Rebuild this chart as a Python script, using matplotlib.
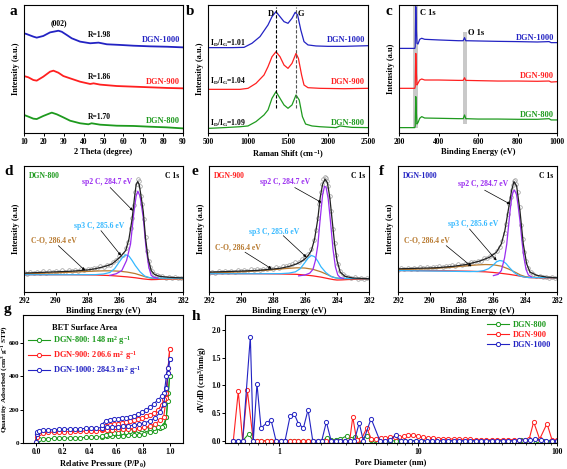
import matplotlib
matplotlib.use('Agg')
import matplotlib.pyplot as plt
import numpy as np

plt.rcParams.update({
    'font.family': 'Liberation Serif', 'font.weight': 'bold', 'axes.labelweight': 'bold',
    'font.size': 5.5, 'axes.linewidth': 0.8,
    'xtick.major.width': 0.7, 'ytick.major.width': 0.7, 'xtick.major.size': 2, 'ytick.major.size': 2,
    'xtick.minor.size': 1.2, 'xtick.minor.width': 0.5,
    'xtick.major.pad': 1.5, 'ytick.major.pad': 1.0, 'axes.labelpad': 1.5,
    'mathtext.fontset': 'custom', 'mathtext.rm': 'Liberation Serif:bold',
    'mathtext.it': 'Liberation Serif:bold:italic', 'mathtext.bf': 'Liberation Serif:bold',
})

BLUE = '#2323c3'; RED = '#ff2020'; GREEN = '#1e9a1e'
PURPLE = '#9a2cf0'; LBLUE = '#33b8ff'; BROWN = '#b87a30'; GRAY = '#9a9a9a'

# ---------------- (a) XRD ----------------
xrd_1000_t = [10, 11.3, 14.7, 16.4, 19.7, 23.1, 27.3, 29, 31.5, 34, 38.2, 43.3, 47.5, 51.7, 58.4, 65.1, 73.5, 81.9, 90]
xrd_1000_i = [77.9, 77.3, 75.3, 74.5, 75.8, 78.6, 79.9, 79.1, 76.6, 74, 71.4, 70.1, 70.6, 69.3, 68.8, 68.2, 67.7, 67.4, 66.9]
xrd_900_t = [10, 12.2, 14.7, 16.4, 19.7, 23.1, 24.8, 27.3, 29.8, 33.2, 38.2, 43.3, 45, 48.3, 56.7, 65.1, 73.5, 81.9, 90]
xrd_900_i = [44.5, 43.5, 41.4, 40.9, 44, 47.9, 48.7, 47.1, 44.5, 42.7, 40.1, 38.3, 38.8, 37.8, 36.7, 36.2, 35.7, 35.2, 34.9]
xrd_800_t = [10, 12.2, 14.7, 16.4, 19.7, 23.1, 24, 26.5, 29.8, 33.2, 38.2, 42.4, 44, 48.3, 56.7, 65.1, 73.5, 81.9, 90]
xrd_800_i = [14.1, 12.8, 11.2, 10.9, 13.3, 15.4, 15.9, 14.6, 12.2, 9.6, 7.6, 6.8, 7.6, 6.5, 5.7, 5.5, 4.9, 4.4, 3.6]
xrd_r_labels = ['R=1.98', 'R=1.86', 'R=1.70']

# ---------------- (b) Raman ----------------
ram_1000_w = [500, 800, 950, 1050, 1150, 1250, 1300, 1350, 1400, 1450, 1500, 1550, 1590, 1620, 1660, 1700, 1750, 1850, 2000, 2200, 2500]
ram_1000_i = [66.7, 66.7, 66.9, 70.1, 75.3, 84.4, 90.9, 94.8, 90.9, 87, 85.7, 89.6, 94.3, 92.2, 80.5, 71.4, 68.8, 68, 67.7, 67.7, 68.2]
ram_900_w = [500, 900, 1000, 1100, 1200, 1250, 1300, 1350, 1400, 1450, 1500, 1550, 1600, 1630, 1670, 1700, 1750, 1900, 2200, 2500]
ram_900_i = [34.1, 34.1, 34.9, 38.8, 45.3, 51.8, 59.6, 63.5, 59.6, 53.1, 50.5, 54.4, 62.2, 58.3, 45.3, 37.5, 35.4, 34.9, 34.6, 34.9]
ram_800_w = [500, 700, 900, 1000, 1100, 1200, 1250, 1300, 1350, 1400, 1450, 1500, 1550, 1600, 1640, 1680, 1720, 1800, 1900, 2100, 2150, 2300, 2500]
ram_800_i = [3.6, 4.2, 4.9, 5.5, 8.9, 14.1, 18, 27.1, 32.3, 27.1, 21.9, 19.3, 21.9, 29.7, 25.8, 12.8, 7, 5.5, 4.9, 4.2, 5.5, 4.4, 4.2]
ram_ratio_labels = ['1.01', '1.04', '1.09']
ram_d_pos = 1350
ram_g_pos = 1595

# ---------------- (c) XPS survey ----------------
sv_1000_e = [200, 280, 282, 285, 288, 291, 296, 305, 315, 330, 400, 500, 525, 532, 538, 600, 700, 800, 900, 960, 970, 1000]
sv_1000_i = [66.1, 66.1, 67.4, 98.7, 80.5, 70, 69.5, 73.2, 74, 73.2, 72.7, 72.1, 72.1, 74.5, 72.1, 71.9, 71.6, 71.4, 71.1, 71.4, 70.6, 70.6]
sv_900_e = [200, 280, 282, 285, 288, 291, 296, 305, 315, 330, 400, 500, 525, 532, 538, 600, 700, 800, 900, 960, 970, 1000]
sv_900_i = [34.9, 34.9, 36.2, 62.2, 46.6, 37.5, 38.8, 41.4, 42.2, 41.4, 41.4, 41.1, 41.1, 43.2, 41.1, 40.9, 40.6, 40.6, 40.4, 40.6, 39.8, 40.1]
sv_800_e = [200, 280, 282, 285, 288, 291, 296, 305, 315, 330, 400, 500, 525, 532, 538, 600, 700, 800, 900, 960, 970, 1000]
sv_800_i = [4.2, 4.2, 5.5, 28.4, 15.4, 7, 8.1, 11.5, 12.8, 11.7, 11.5, 11.2, 11.2, 14.1, 11.2, 10.9, 10.9, 10.7, 10.7, 11.2, 10.2, 10.2]

# ---------------- (d,e,f) C 1s ----------------
raw_be = [292.0, 291.8, 291.6, 291.4, 291.2, 291.0, 290.8, 290.6, 290.4, 290.2, 290.0, 289.8, 289.6, 289.4, 289.2,
          289.0, 288.8, 288.6, 288.4, 288.2, 288.0, 287.8, 287.6, 287.4, 287.2, 287.0, 286.8, 286.6, 286.4, 286.2,
          286.0, 285.8, 285.6, 285.45, 285.3, 285.2, 285.1, 285.0, 284.92, 284.85, 284.78, 284.7, 284.62, 284.55,
          284.45, 284.35, 284.25, 284.15, 284.05, 283.95, 283.8, 283.65, 283.5, 283.3, 283.1, 282.9, 282.7, 282.5,
          282.3, 282.1]
raw_800 = [15.8, 14.6, 15.9, 15.0, 16.1, 15.3, 16.4, 15.4, 16.6, 15.8, 16.9, 16.0, 17.1, 16.2, 17.3, 16.6, 17.6, 16.8,
           18.0, 17.3, 18.4, 17.9, 19.2, 18.8, 20.3, 20.0, 21.6, 21.8, 24.0, 25.5, 28.4, 29.5, 35.0, 40.0, 50.5, 59.0,
           69.0, 79.5, 86.0, 89.5, 88.0, 84.0, 76.5, 70.0, 58.0, 44.0, 32.5, 25.0, 19.5, 16.8, 14.5, 13.8, 12.6, 12.4,
           11.5, 12.0, 11.2, 11.6, 10.9, 11.4]
raw_900 = [14.8, 16.2, 15.2, 16.4, 15.6, 16.7, 15.9, 17.0, 16.2, 17.3, 16.5, 17.5, 16.8, 17.9, 17.2, 18.0, 17.6, 18.6,
           18.1, 19.2, 18.6, 19.8, 19.3, 20.6, 20.4, 21.8, 21.9, 23.5, 23.9, 26.0, 27.0, 30.4, 34.0, 41.0, 49.5, 59.0,
           69.5, 79.0, 85.5, 89.5, 91.0, 90.5, 88.0, 84.5, 76.5, 64.0, 50.0, 38.5, 29.0, 22.5, 16.8, 14.0, 12.8, 11.8,
           11.3, 11.6, 10.7, 11.0, 10.3, 10.8]
raw_1000 = [17.6, 18.9, 18.0, 19.1, 18.3, 19.4, 18.6, 19.6, 18.9, 19.9, 19.2, 20.2, 19.5, 20.6, 20.0, 21.0, 20.4, 21.4,
            20.9, 22.0, 21.6, 22.6, 22.4, 23.6, 23.5, 24.9, 25.0, 26.6, 27.0, 28.9, 29.6, 32.8, 35.5, 40.5, 47.0, 54.0,
            62.0, 70.0, 75.5, 81.0, 85.0, 88.0, 88.5, 85.5, 79.0, 67.5, 53.5, 42.0, 31.5, 25.0, 19.0, 15.8, 14.5, 13.0,
            12.8, 12.0, 12.2, 11.4, 11.7, 11.0]

env_800_e = [292, 291, 290, 289, 288.5, 288, 287.5, 287, 286.5, 286.2, 285.9, 285.6, 285.4, 285.2, 285.05, 284.95, 284.85, 284.75, 284.65, 284.5, 284.35, 284.2, 284.0, 283.8, 283.5, 283, 282.5, 282]
env_800_i = [15, 15.5, 16, 16.5, 17, 17.5, 18.5, 20, 22, 25, 28.5, 33, 42, 58, 75, 85, 87.6, 85, 77, 64, 42, 27, 17, 14, 12.5, 11.8, 11.4, 11.2]
env_900_e = [292, 290, 289, 288, 287.5, 287, 286.5, 286.2, 286, 285.8, 285.6, 285.4, 285.2, 285.05, 284.9, 284.75, 284.6, 284.45, 284.3, 284.15, 284.0, 283.8, 283.5, 283, 282]
env_900_i = [15.8, 16.6, 17.1, 18.2, 18.9, 20.3, 22.4, 24.5, 26.3, 28.9, 32.9, 42.1, 57.9, 75, 85.5, 89.5, 86.8, 75, 56.6, 38.2, 25, 15.8, 12.4, 11.1, 10.5]
env_1000_e = [292, 289.63, 288.57, 287.72, 286.87, 286.24, 285.81, 285.5, 285.28, 285.07, 284.86, 284.71, 284.54, 284.33, 284.12, 283.91, 283.7, 283.27, 282.64, 282]
env_1000_i = [18.4, 19.2, 20.3, 21.8, 24.5, 27.6, 31.6, 38.2, 48.7, 64.5, 80.3, 87.6, 84.2, 64.5, 38.2, 22.4, 15.8, 13.2, 11.8, 11.3]

sp2_800_e = [286.6, 286.2, 285.85, 285.55, 285.3, 285.1, 284.95, 284.84, 284.7, 284.5, 284.33, 284.15, 284.0, 283.85, 283.6]
sp2_800_i = [13.2, 14.5, 17, 25, 38, 62, 76, 80, 76, 59, 35.5, 19.7, 13.2, 11.8, 11]
sp2_900_e = [286.4, 286.0, 285.7, 285.5, 285.35, 285.2, 285.05, 284.9, 284.78, 284.68, 284.55, 284.4, 284.25, 284.1, 283.95, 283.8, 283.6]
sp2_900_i = [12.8, 13.5, 15, 18, 25, 37, 58, 77, 84, 83, 74, 55, 34, 20, 13.5, 11.5, 10.8]
sp2_1000_e = [286.0, 285.7, 285.5, 285.3, 285.16, 285.05, 284.95, 284.85, 284.75, 284.67, 284.55, 284.45, 284.33, 284.2, 284.1, 283.95, 283.8, 283.6]
sp2_1000_i = [13, 14, 17, 27, 38, 52, 64.5, 75, 80, 80.8, 77.5, 69, 56.6, 40, 29, 18, 13.5, 12]

sp3_e = [292, 289, 287.5, 287, 286.6, 286.3, 286.0, 285.8, 285.6, 285.4, 285.2, 285.0, 284.7, 284.4, 284.1, 283.8, 282]
sp3_800_i = [13.7, 13.7, 13.8, 14.3, 15.5, 18.5, 24, 27.5, 29.5, 28.5, 25, 21, 16, 12.6, 11.4, 11, 11]
sp3_900_i = [14.5, 14.5, 14.6, 15, 16, 18.5, 23.5, 27, 29, 28, 24.5, 20, 15.5, 12.5, 11.2, 10.8, 10.5]
sp3_1000_i = [17, 16.5, 16.2, 16.3, 17, 18.5, 21.5, 24, 25, 24.5, 22.5, 19.5, 15.5, 13, 12, 11.5, 11.3]

co_e = [292, 290, 288.5, 287.5, 287, 286.5, 286, 285.5, 285, 284.6, 284.3, 284, 283.7, 282]
co_800_i = [14.4, 15.2, 16, 16.6, 16.8, 16.8, 16.5, 15.8, 14.6, 13, 11.8, 11, 10.7, 10.5]
co_900_i = [15, 16, 17.2, 18.3, 18.8, 19.2, 19, 18, 16, 13.8, 12, 11, 10.6, 10.5]
co_1000_i = [17.6, 18.5, 19.8, 21, 21.5, 21.8, 21.6, 20.5, 18, 15.5, 13.5, 12.2, 11.7, 11.3]

bg_e = [292, 289, 287.5, 286.5, 286, 285.5, 285, 284.5, 284.2, 284, 283.7, 283.3, 282]
bg_800_i = [13.7, 13.7, 13.5, 13, 12.5, 12, 11.3, 10.4, 10.0, 9.8, 9.9, 10.2, 10.6]
bg_900_i = [14.5, 14.5, 14.3, 14, 13.5, 12.8, 11.8, 10.5, 9.8, 9.5, 9.6, 9.9, 10.3]
bg_1000_i = [17, 16.8, 16.5, 16, 15.5, 14.8, 14, 13, 12.3, 11.8, 11.4, 11.2, 11.1]

c1s_names = ['DGN-800', 'DGN-900', 'DGN-1000']
comp_labels = ['sp2 C, 284.7 eV', 'sp3 C, 285.6 eV', 'C-O, 286.4 eV']

# ---------------- (g) isotherms ----------------
ads_p = [0.0, 0.002, 0.006, 0.02, 0.05, 0.09, 0.13, 0.17, 0.21, 0.25, 0.29, 0.33, 0.37, 0.41, 0.45, 0.49, 0.53, 0.57,
         0.61, 0.65, 0.69, 0.73, 0.77, 0.81, 0.85, 0.89, 0.93, 0.955, 0.975, 0.99, 1.0]
ads_800 = [2, 14, 20, 24, 25, 26, 27, 28, 29, 30, 31, 32, 33, 34, 36, 38, 39, 40, 41, 43, 45, 46, 50, 56, 63, 72, 88, 110, 155, 300, 400]
ads_900 = [3, 35, 52, 58, 62, 64, 65, 66, 67, 68, 69, 70, 71, 72, 74, 76, 78, 80, 81, 83, 85, 86, 89, 93, 100, 115, 135, 155, 270, 450, 560]
ads_1000 = [5, 55, 68, 73, 76, 78, 80, 81, 82, 83, 84, 85, 87, 88, 90, 92, 94, 96, 98, 101, 104, 106, 112, 120, 132, 150, 185, 235, 330, 420, 500]
des_p = [1.0, 0.985, 0.975, 0.96, 0.94, 0.91, 0.88, 0.85, 0.82, 0.79, 0.76, 0.73, 0.70, 0.67, 0.64, 0.61, 0.58, 0.55, 0.52, 0.49]
des_800 = [400, 250, 155, 100, 98, 95, 92, 88, 85, 82, 79, 76, 72, 68, 65, 62, 59, 56, 50, 42]
des_900 = [560, 420, 300, 265, 230, 195, 180, 170, 160, 152, 145, 137, 130, 124, 120, 116, 112, 108, 100, 85]
des_1000 = [500, 450, 400, 300, 280, 255, 235, 215, 197, 185, 172, 162, 157, 152, 149, 146, 143, 140, 132, 110]
bet_labels = ['DGN-800: 148 m$^\\mathregular{2}$ g$^\\mathregular{-1}$',
              'DGN-900: 206.6 m$^\\mathregular{2}$ g$^\\mathregular{-1}$',
              'DGN-1000: 284.3 m$^\\mathregular{2}$ g$^\\mathregular{-1}$']

# ---------------- (h) pore size distribution ----------------
psd_800_d = [0.466, 0.506, 0.544, 0.60, 0.649, 0.690, 0.738, 0.810, 0.871, 0.946, 1.022, 1.099, 1.194, 1.283, 1.371,
             1.490, 1.61, 1.74, 1.89, 2.02, 2.19, 2.36, 2.55, 2.75, 3.06, 3.3, 3.51, 3.8, 4.27, 4.6, 4.9, 5.3, 5.8, 6.3,
             6.9, 7.5, 8.1, 8.8, 9.6, 10.5, 11.5, 12.5, 13.7, 15, 16.4, 18, 19.7, 21.6, 23.6, 25.9, 28.3, 31, 34, 37.2,
             40.7, 44.6, 48.8, 54.7, 60, 66, 72, 80, 90, 100]
psd_800_v = [0, 0, 0, 0.12, 0, 0, 0, 0, 0, 0, 0, 0, 0, 0, 0, 0, 0, 0, 0, 0, 0.05, 0.02, 0.02, 0.03, 0.09, 0.03, 0.07,
             0.01, 0.09, 0.02, 0.01, 0, 0, 0, 0, 0, 0, 0, 0, 0, 0, 0, 0, 0, 0, 0, 0, 0, 0, 0, 0, 0, 0, 0, 0, 0, 0,
             0.02, 0.01, 0, 0.02, 0, 0, 0]
psd_900_d = [0.466, 0.506, 0.544, 0.588, 0.649, 0.690, 0.738, 0.810, 0.871, 0.946, 1.022, 1.099, 1.194, 1.283, 1.371,
             1.490, 1.61, 1.74, 1.89, 2.02, 2.18, 2.36, 2.55, 2.75, 2.97, 3.21, 3.38, 3.6, 3.9, 4.26, 4.6, 5.0, 5.4, 5.8,
             6.3, 6.8, 7.3, 7.9, 8.5, 9.2, 10.0, 10.8, 11.7, 12.7, 13.8, 15.0, 16.4, 18.0, 19.7, 21.6, 23.6, 25.9, 28.3,
             31.0, 34.0, 37.2, 40.7, 44.6, 48.8, 53.4, 58.5, 63.0, 67.9, 75.0, 84.7, 92.0, 100.0]
psd_900_v = [0, 0.89, 0, 0.91, 0, 0, 0, 0, 0, 0, 0, 0, 0, 0, 0, 0, 0, 0, 0, 0, 0, 0, 0, 0, 0, 0, 0.43, 0.02, 0.03, 0.23,
             0.03, 0.04, 0.05, 0.05, 0.06, 0.07, 0.07, 0.08, 0.10, 0.10, 0.08, 0.06, 0.05, 0.045, 0.04, 0.04, 0.035,
             0.03, 0.03, 0.025, 0.025, 0.02, 0.02, 0.02, 0.02, 0.02, 0.02, 0.02, 0.02, 0.02, 0.02, 0.03, 0.34, 0.03,
             0.31, 0.02, 0.01]
psd_1000_d = [0.466, 0.506, 0.544, 0.618, 0.649, 0.690, 0.738, 0.810, 0.871, 0.946, 1.022, 1.099, 1.194, 1.283, 1.371,
              1.490, 1.61, 1.74, 1.89, 2.02, 2.18, 2.36, 2.55, 2.75, 2.97, 3.21, 3.47, 3.76, 4.03, 4.58, 5.3, 5.8, 6.3,
              6.9, 7.46, 8.1, 8.8, 9.6, 10.5, 11.5, 12.5, 13.7, 15.0, 16.4, 18.0, 19.7, 21.6, 23.6, 25.9, 28.3, 31.0,
              34.0, 37.2, 40.7, 44.6, 48.8, 53.4, 58.5, 64.0, 70.0, 76.7, 84.0, 92.0, 100.0]
psd_1000_v = [0, 0, 0, 1.88, 0, 1.03, 0.23, 0.32, 0.38, 0, 0, 0, 0.44, 0.48, 0.31, 0.23, 0.56, 0, 0, 0, 0.34, 0, 0, 0,
              0, 0, 0, 0.32, 0, 0.40, 0, 0, 0.02, 0.10, 0, 0, 0, 0, 0, 0, 0, 0, 0, 0, 0, 0, 0, 0, 0, 0, 0, 0, 0, 0, 0,
              0, 0.01, 0.02, 0.01, 0.03, 0.01, 0, 0, 0]

sample_names = ['DGN-800', 'DGN-900', 'DGN-1000']
sample_colors = [GREEN, RED, BLUE]

W, H = 567, 469
fig = plt.figure(figsize=(W / 100, H / 100), dpi=100)


def ax_px(x0, y0, x1, y1):
    return fig.add_axes([x0 / W, 1 - y1 / H, (x1 - x0) / W, (y1 - y0) / H])


def letter(x, y, s):
    fig.text(x / W, 1 - y / H, s, fontsize=11, fontweight='bold', va='baseline', ha='left')


TK = dict(direction='out', labelsize=5.5)

# (a)
ax = ax_px(24, 5, 183, 133)
ax.plot(xrd_800_t, xrd_800_i, color=GREEN, lw=1.3)
ax.plot(xrd_900_t, xrd_900_i, color=RED, lw=1.3)
ax.plot(xrd_1000_t, xrd_1000_i, color=BLUE, lw=1.3)
ax.set_xlim(10, 90); ax.set_ylim(0, 100)
ax.set_xticks(range(10, 91, 10)); ax.set_yticks([])
ax.tick_params(**TK)
ax.set_xlabel('2 Theta (degree)', fontsize=6)
ax.set_ylabel('Intensity (a.u.)', fontsize=6, labelpad=3)
ax.text(27.3, 85.7, '(002)', ha='center', va='center', fontsize=5.5)
for yv, lab in zip([76.6, 44, 12.8], xrd_r_labels):
    ax.text(48, yv, lab, ha='center', va='center', fontsize=5.5)
for yv, lab, c in zip([72.7, 40, 9.6], ['DGN-1000', 'DGN-900', 'DGN-800'], [BLUE, RED, GREEN]):
    ax.text(88.6, yv, lab, ha='right', va='center', fontsize=6, color=c)
letter(9, 15, 'a')

# (b)
ax = ax_px(208, 5, 368, 133)
ax.plot(ram_800_w, ram_800_i, color=GREEN, lw=0.9)
ax.plot(ram_900_w, ram_900_i, color=RED, lw=0.9)
ax.plot(ram_1000_w, ram_1000_i, color=BLUE, lw=0.9)
ax.plot([ram_d_pos, ram_d_pos], [19.3, 98.5], color='black', lw=0.8, ls=(0, (3, 1.5)))
ax.plot([ram_g_pos, ram_g_pos], [19.3, 98.5], color='#555555', lw=0.8, ls=(0, (3, 1.5)))
ax.set_xlim(500, 2500); ax.set_ylim(0, 100)
ax.set_xticks(range(500, 2501, 500)); ax.set_yticks([])
ax.tick_params(**TK)
ax.set_xlabel('Raman Shift (cm$^\\mathregular{-1}$)', fontsize=6)
ax.set_ylabel('Intensity (a.u.)', fontsize=6, labelpad=3)
ax.text(1290, 93, 'D', ha='center', va='center', fontsize=6)
ax.text(1660, 93, 'G', ha='center', va='center', fontsize=6)
for yv, r in zip([70, 40, 7.6], ram_ratio_labels):
    ax.text(530, yv, 'I$_\\mathregular{D}$/I$_\\mathregular{G}$=' + r, ha='left', va='center', fontsize=5.5)
for yv, lab, c in zip([72.4, 40.1, 8.1], ['DGN-1000', 'DGN-900', 'DGN-800'], [BLUE, RED, GREEN]):
    ax.text(2460, yv, lab, ha='right', va='center', fontsize=6, color=c)
letter(186, 15, 'b')

# (c)
ax = ax_px(399, 5, 557, 133)
ax.axvspan(272, 294, ymin=0.036, ymax=1.0, color='#c9c9c9', lw=0, zorder=0)
ax.axvspan(525, 542, ymin=0.07, ymax=0.79, color='#c9c9c9', lw=0, zorder=0)
ax.plot(sv_800_e, sv_800_i, color=GREEN, lw=0.9)
ax.plot(sv_900_e, sv_900_i, color=RED, lw=0.9)
ax.plot(sv_1000_e, sv_1000_i, color=BLUE, lw=0.9)
ax.set_xlim(200, 1000); ax.set_ylim(0, 100)
ax.set_xticks(range(200, 1001, 200)); ax.set_yticks([])
ax.tick_params(**TK)
ax.set_xlabel('Binding Energy (eV)', fontsize=6)
ax.set_ylabel('Intensity (a.u)', fontsize=6, labelpad=3)
ax.text(305, 94, 'C 1s', ha='left', va='center', fontsize=6)
ax.text(550, 78, 'O 1s', ha='left', va='center', fontsize=6)
for yv, lab, c in zip([74.5, 44.3, 14.1], ['DGN-1000', 'DGN-900', 'DGN-800'], [BLUE, RED, GREEN]):
    ax.text(985, yv, lab, ha='right', va='center', fontsize=6, color=c)
letter(385, 15, 'c')

# (d, e, f)
c1s_boxes = [(24, 166, 183, 292), (209, 166, 369, 292), (398, 166, 557, 292)]
raws = [raw_800, raw_900, raw_1000]
envs = [(env_800_e, env_800_i), (env_900_e, env_900_i), (env_1000_e, env_1000_i)]
sp2s = [(sp2_800_e, sp2_800_i), (sp2_900_e, sp2_900_i), (sp2_1000_e, sp2_1000_i)]
sp3s = [sp3_800_i, sp3_900_i, sp3_1000_i]
cos = [co_800_i, co_900_i, co_1000_i]
bgs = [bg_800_i, bg_900_i, bg_1000_i]
lab_pos = [
    [(286.79, 87.6), (287.3, 52.6), (290.15, 40.8)],
    [(287.26, 87.6), (287.9, 47.9), (290.2, 35.0)],
    [(286.66, 85.5), (287.3, 54.0), (290.16, 41.3)],
]
arrows = [
    [((285.15, 64.5), (286.58, 82.9)), ((285.9, 28.9), (287.16, 48.7)), ((288.16, 17.1), (289.84, 36.8))],
    [((284.97, 71.0), (286.64, 82.9)), ((285.91, 27.6), (287.36, 44.7)), ((288.09, 18.4), (289.75, 31.6))],
    [((284.94, 69.7), (286.55, 80.8)), ((285.8, 25.0), (287.5, 50.0)), ((287.38, 20.3), (288.97, 36.8))],
]
letters_def = [(4, 175, 'd'), (191, 175, 'e'), (379, 175, 'f')]
for k in range(3):
    ax = ax_px(*c1s_boxes[k])
    ax.plot(raw_be, raws[k], ls='none', marker='o', ms=2.6, mfc='none', mec=GRAY, mew=0.5)
    ax.plot(bg_e, bgs[k], color=RED, lw=0.9)
    ax.plot(co_e, cos[k], color=BROWN, lw=0.9)
    ax.plot(sp3_e, sp3s[k], color=LBLUE, lw=0.9)
    ax.plot(sp2s[k][0], sp2s[k][1], color=PURPLE, lw=0.9)
    ax.plot(envs[k][0], envs[k][1], color='#222222', lw=0.9)
    ax.set_xlim(292, 282); ax.set_ylim(0, 100)
    ax.set_xticks(range(292, 281, -2)); ax.set_yticks([])
    ax.tick_params(**TK)
    ax.set_xlabel('Binding Energy (eV)', fontsize=6)
    ax.set_ylabel('Intensity (a.u)', fontsize=6, labelpad=3)
    ax.text(0.03, 0.955, c1s_names[k], transform=ax.transAxes, ha='left', va='top', fontsize=5.5,
            color=sample_colors[k])
    ax.text(0.975, 0.955, 'C 1s', transform=ax.transAxes, ha='right', va='top', fontsize=5.5)
    for (xy, lab, c) in zip(lab_pos[k], comp_labels, [PURPLE, LBLUE, BROWN]):
        ax.text(xy[0], xy[1], lab, ha='center', va='center', fontsize=5.5, color=c)
    for head, tail in arrows[k]:
        ax.annotate('', xy=head, xytext=tail,
                    arrowprops=dict(arrowstyle='-|>', lw=0.5, color='black', mutation_scale=4,
                                    shrinkA=0, shrinkB=0))
    letter(*letters_def[k])

# (g)
ax = ax_px(23, 315, 183, 443)
ads = [ads_800, ads_900, ads_1000]
des = [des_800, des_900, des_1000]
handles = []
for k in range(3):
    h, = ax.plot(ads_p, ads[k], color=sample_colors[k], lw=0.8, marker='o', ms=3, mfc='white',
                 mec=sample_colors[k], mew=0.7)
    ax.plot(des_p, des[k], color=sample_colors[k], lw=0.8, marker='o', ms=3, mfc='white',
            mec=sample_colors[k], mew=0.7)
    handles.append(h)
ax.set_xlim(-0.1, 1.1); ax.set_ylim(0, 765)
ax.set_xticks([0, 0.2, 0.4, 0.6, 0.8, 1.0]); ax.set_xticklabels(['0.0', '0.2', '0.4', '0.6', '0.8', '1.0'])
ax.set_yticks([0, 200, 400, 600])
ax.tick_params(**TK)
ax.tick_params(axis='y', labelsize=5, pad=0.8)
ax.set_xlabel('Relative Pressure (P/P$_\\mathregular{0}$)', fontsize=6)
ax.set_ylabel('Quantity Adsorbed (cm$^\\mathregular{3}$ g$^\\mathregular{-1}$ STP)', fontsize=5.3)
ax.yaxis.set_label_coords(-0.088, 0.5)
leg = ax.legend(handles, bet_labels, loc='upper left', bbox_to_anchor=(0.0, 0.97), frameon=False,
                fontsize=6, title='BET Surface Area', title_fontsize=6, handlelength=2.6,
                handletextpad=0.4, labelspacing=0.25, borderaxespad=0.2)
for t, c in zip(leg.get_texts(), sample_colors):
    t.set_color(c)
leg.get_title().set_fontweight('bold')
letter(4, 313, 'g')

# (h)
ax = ax_px(225, 315, 557, 443)
psd = [(psd_800_d, psd_800_v), (psd_900_d, psd_900_v), (psd_1000_d, psd_1000_v)]
for k in range(3):
    ax.plot(psd[k][0], psd[k][1], color=sample_colors[k], lw=0.8, marker='o', ms=3, mfc='white',
            mec=sample_colors[k], mew=0.7, label=sample_names[k])
ax.set_xscale('log')
ax.set_xlim(0.406, 100); ax.set_ylim(-0.04, 2.27)
ax.set_xticks([1, 10, 100]); ax.set_xticklabels(['1', '10', '100'])
ax.set_yticks([0, 0.5, 1.0, 1.5, 2.0])
ax.tick_params(**TK)
ax.tick_params(axis='x', which='minor', direction='out')
ax.set_xlabel('Pore Diameter (nm)', fontsize=6)
ax.set_ylabel('dV/dD (cm$^\\mathregular{3}$/nm/g)', fontsize=6, labelpad=2)
leg = ax.legend(loc='upper right', frameon=False, fontsize=6, handlelength=2.6, handletextpad=0.5,
                labelspacing=0.25, borderaxespad=0.3)
for t, c in zip(leg.get_texts(), sample_colors):
    t.set_color(c)
letter(192, 320, 'h')

fig.savefig('out.png', dpi=100)
